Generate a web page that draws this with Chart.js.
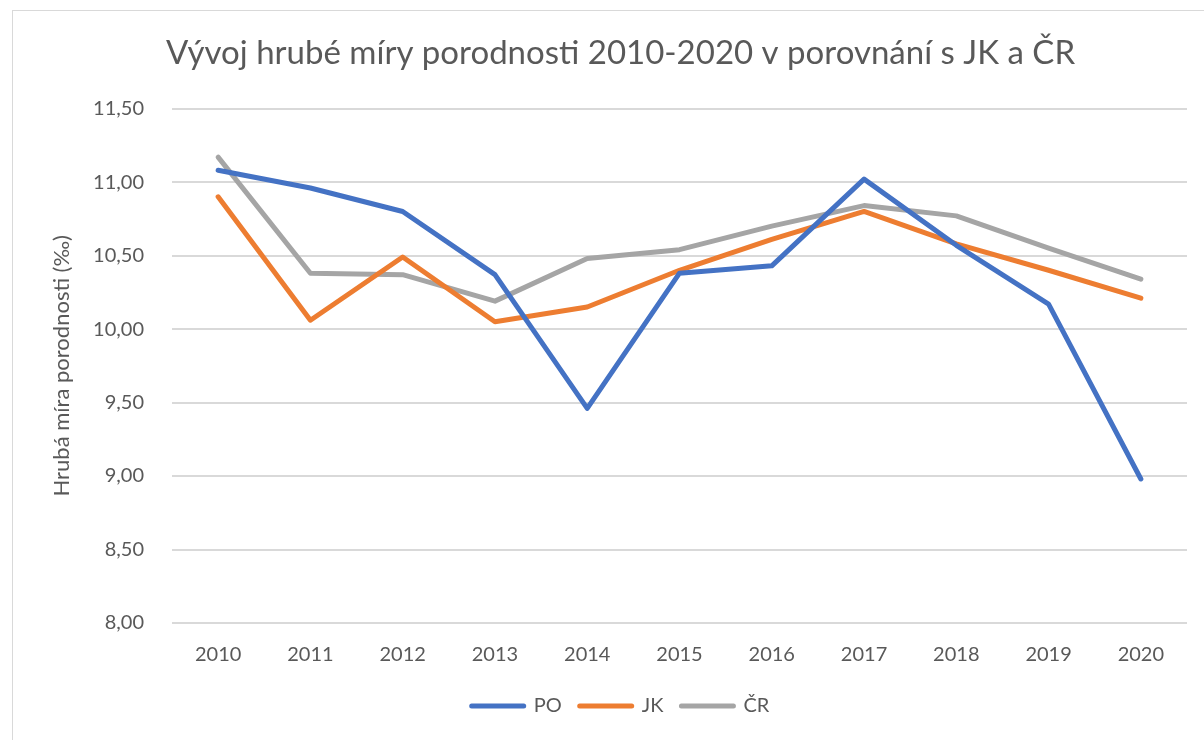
<!DOCTYPE html>
<html>
<head>
<meta charset="utf-8">
<script src="https://cdn.jsdelivr.net/npm/chart.js@4.4.0/dist/chart.umd.min.js"></script>
<style>
  body { margin: 0; background: #fff; }
  #frame { position: absolute; left: 12px; top: 10px; width: 1300px; height: 800px; border: 1px solid #d9d9d9; }
  #wrap { position: absolute; left: 0; top: 0; width: 1204px; height: 740px; }
</style>
</head>
<body>
<div id="frame"></div>
<div id="wrap"><canvas id="myChart"></canvas></div>
<script>
const years = ["2010", "2011", "2012", "2013", "2014", "2015", "2016", "2017", "2018", "2019", "2020"];
const po = [11.08, 10.96, 10.80, 10.37, 9.46, 10.38, 10.43, 11.02, 10.57, 10.17, 8.98];
const jk = [10.90, 10.06, 10.49, 10.05, 10.15, 10.40, 10.61, 10.80, 10.58, 10.40, 10.21];
const cr = [11.17, 10.38, 10.37, 10.19, 10.48, 10.54, 10.70, 10.84, 10.77, 10.55, 10.34];

const textColor = "#595959";
const fontName = "Lato";

const ctx = document.getElementById("myChart");

const data = {
  labels: years,
  datasets: [
    { label: "PO", data: po, borderColor: "#4472C4", backgroundColor: "#4472C4" },
    { label: "JK", data: jk, borderColor: "#ED7D31", backgroundColor: "#ED7D31" },
    { label: "ČR", data: cr, borderColor: "#A5A5A5", backgroundColor: "#A5A5A5" },
  ],
};

const config = {
  type: "line",
  data: data,
  options: {
    responsive: true,
    maintainAspectRatio: false,
    animation: false,
    layout: { padding: { left: 54, right: 17, top: 0, bottom: 14 } },
    elements: {
      line: { borderWidth: 5, borderCapStyle: "round", borderJoinStyle: "round", tension: 0 },
      point: { radius: 0, hoverRadius: 0 },
    },
    scales: {
      x: {
        offset: true,
        grid: { display: false, drawTicks: false },
        border: { display: false },
        afterFit: function (scale) { scale.height = 55; },
        ticks: { color: textColor, font: { family: fontName, size: 20 }, padding: 20 },
      },
      y: {
        min: 8,
        max: 11.5,
        grid: { color: "#d9d9d9", lineWidth: 2, drawTicks: false },
        border: { display: false },
        afterFit: function (scale) { scale.width = 118; },
        ticks: {
          stepSize: 0.5,
          color: textColor,
          padding: 28,
          font: { family: fontName, size: 20 },
          callback: function (value) { return value.toFixed(2).replace(".", ","); },
        },
        title: {
          display: true,
          text: "Hrubá míra porodnosti (‰)",
          color: textColor,
          font: { family: fontName, size: 22 },
          padding: { top: -5, bottom: 0 },
        },
      },
    },
    plugins: {
      title: {
        display: true,
        text: "Vývoj hrubé míry porodnosti 2010-2020 v porovnání s JK a ČR",
        color: textColor,
        font: { family: fontName, size: 33, weight: "normal" },
        padding: { top: 34, bottom: 35 },
      },
      legend: {
        position: "bottom",
        labels: {
          color: textColor,
          font: { family: fontName, size: 20 },
          usePointStyle: true,
          pointStyle: "line",
          boxWidth: 50,
          boxHeight: 5,
          pointStyleWidth: 52,
          padding: 18,
          generateLabels: function (chart) {
            return chart.data.datasets.map(function (ds, i) {
              return {
                text: ds.label,
                strokeStyle: ds.borderColor,
                fillStyle: ds.borderColor,
                lineWidth: 5,
                lineCap: "round",
                pointStyle: "line",
                fontColor: textColor,
                datasetIndex: i,
                hidden: false,
              };
            });
          },
        },
      },
      tooltip: { enabled: false },
    },
  },
};
new Chart(ctx, config);
</script>
</body>
</html>
